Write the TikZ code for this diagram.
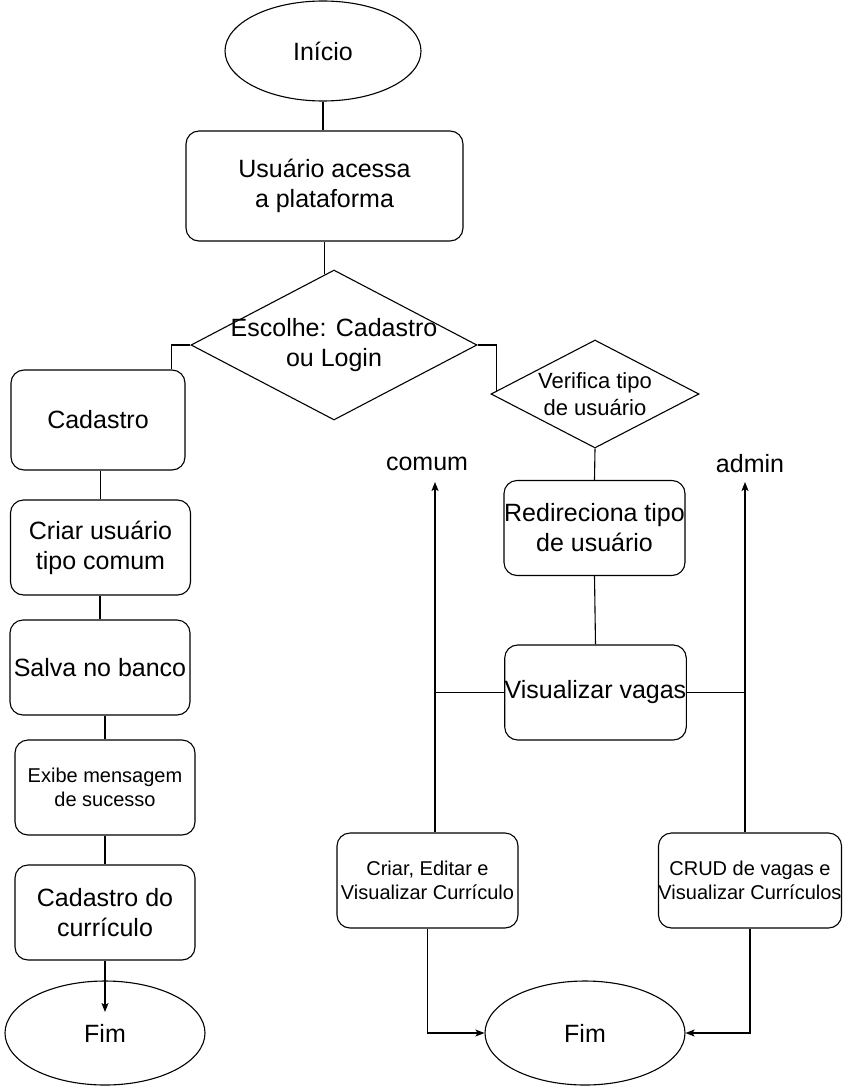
\documentclass[tikz,border=0pt]{standalone}
\usepackage{fontspec}
\setmainfont{Liberation Sans}
\usetikzlibrary{shapes.geometric,arrows.meta,calc}
\begin{document}
\begin{tikzpicture}[x=1pt,y=-1pt,
  line width=1pt,
  big/.style={font=\fontsize{25}{30}\selectfont},
  med/.style={font=\fontsize{22}{27}\selectfont},
  small/.style={font=\fontsize{20}{24}\selectfont},
  box/.style={draw,rounded corners=13pt,align=center,inner sep=0pt,line width=1.1pt},
  oval/.style={draw,ellipse,align=center,inner sep=0pt,line width=1.1pt},
  dia/.style={draw,diamond,inner sep=0pt,line width=1.1pt},
  conn/.style={line width=1.1pt},
  arr/.style={line width=1.1pt,-{Stealth[length=9pt,width=7pt,inset=2pt]}}]
\useasboundingbox (0,0) rectangle (849,1086);

% nodes
\node[oval,big,minimum width=196pt,minimum height=100pt] (inicio) at (323,51) {Início};
\node[box,big,minimum width=277pt,minimum height=110pt] (ua) at (324.5,186) {Usuário acessa\\ a plataforma};
\node[dia,minimum width=286pt,minimum height=150pt,
  label={[big,align=center]center:Escolhe: Cadastro\\ou Login}] (esc) at (334,345) {};
\node[box,big,minimum width=174pt,minimum height=100pt] (cad) at (98,420) {Cadastro};
\node[box,big,minimum width=180pt,minimum height=95pt] (cu) at (100.5,547.5) {Criar usuário\\tipo comum};
\node[box,big,minimum width=180pt,minimum height=95pt] (sb) at (100,667.5) {Salva no banco};
\node[box,small,minimum width=180pt,minimum height=95pt] (ex) at (105,787.5) {Exibe mensagem\\ de sucesso};
\node[box,big,minimum width=180pt,minimum height=95pt] (cc) at (105,912.5) {Cadastro do\\currículo};
\node[oval,big,minimum width=200pt,minimum height=104pt] (fim1) at (105,1033) {Fim};

\node[dia,minimum width=208pt,minimum height=108pt,
  label={[med,align=center]center:Verifica tipo\\de usuário}] (ver) at (595,394) {};
\node[box,big,minimum width=181pt,minimum height=95pt] (red) at (594.5,528) {Redireciona tipo\\ de usuário};
\node[box,big,minimum width=181pt,minimum height=95pt] (vis) at (595.5,692.5) {Visualizar vagas};
\node[box,small,minimum width=181pt,minimum height=95pt] (criar) at (427.5,880.5) {Criar, Editar e\\Visualizar Currículo};
\node[box,small,minimum width=180pt,minimum height=95pt] (crud) at (750,880.5) {CRUD de vagas e\\Visualizar Currículos};
\node[oval,big,minimum width=200pt,minimum height=104pt] (fim2) at (585,1033) {Fim};

\node[big] (comum) at (427,464) {comum};
\node[big] (admin) at (750,464) {admin};

% helper coordinates
\path (esc.north) -- (esc.west) coordinate[pos=0.066] (e1);
\path (ver.west) -- (ver.north) coordinate[pos=0.058] (v1);
\coordinate (cmtip) at (435,482);
\coordinate (adtip) at (745,482);
\coordinate (f1tip) at (105,1012);

% connectors
\draw[conn] (inicio.south) -- (inicio.south |- ua.north);
\draw[conn] (ua.south) -- (ua.south |- e1);
\draw[conn] (esc.west) -| ($(cad.north east)+(-14,0)$);
\draw[conn] (esc.east) -| (v1);
\draw[conn] (cu.north) -- (cu.north |- cad.south);
\draw[conn] (sb.north) -- (sb.north |- cu.south);
\draw[conn] (ex.north) -- (ex.north |- sb.south);
\draw[conn] (cc.north) -- (cc.north |- ex.south);
\draw[arr] (cc.south) -- (f1tip);

\draw[conn] (ver.south) -- (red.north);
\draw[conn] (red.south) -- (vis.north);
\draw[conn] (vis.west) -- (vis.west -| cmtip);
\draw[conn] (vis.east) -- (vis.east -| adtip);
\draw[arr] (criar.north -| cmtip) -- (cmtip);
\draw[arr] (crud.north -| adtip) -- (adtip);
\draw[arr] (criar.south) |- (fim2.west);
\draw[arr] (crud.south) |- (fim2.east);
\end{tikzpicture}
\end{document}
